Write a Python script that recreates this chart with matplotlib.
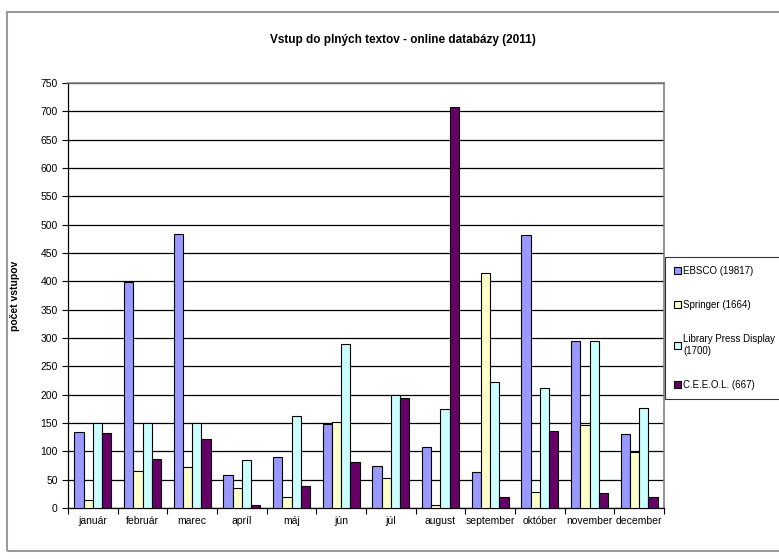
import numpy as np
import matplotlib.pyplot as plt
from matplotlib.patches import Rectangle

plt.rcParams['font.family'] = ['Liberation Sans', 'DejaVu Sans']

months = ['január', 'február', 'marec', 'apríl', 'máj', 'jún', 'júl',
          'august', 'september', 'október', 'november', 'december']
ebsco = [135, 398, 483, 59, 90, 148, 74, 108, 64, 481, 295, 131]
springer = [14, 66, 72, 35, 19, 152, 53, 5, 415, 29, 146, 98]
lpd = [150, 150, 150, 84, 162, 289, 200, 174, 223, 211, 295, 176]
ceeol = [133, 87, 121, 5, 38, 81, 195, 708, 20, 136, 26, 19]

series = [ebsco, springer, lpd, ceeol]
labels = ['EBSCO (19817)', 'Springer (1664)', 'Library Press Display\n(1700)', 'C.E.E.O.L. (667)']
colors = ['#9999FF', '#FFFFCC', '#CCFFFF', '#660066']

W, H = 779, 559
fig = plt.figure(figsize=(W / 100, H / 100), dpi=100)

# outer chart border
fig.patches.append(Rectangle((7 / W, 1 - 551 / H), (W + 5) / W, (551 - 12) / H,
                             transform=fig.transFigure, fill=False,
                             edgecolor='#9a9a9a', linewidth=1.5))

ax = fig.add_axes([68 / W, 1 - 508 / H, (664 - 68) / W, (508 - 83) / H])

x = np.arange(len(months))
bw = 0.185
for i, (vals, lab, col) in enumerate(zip(series, labels, colors)):
    ax.bar(x + (i - 1.5) * bw, vals, bw, color=col, edgecolor='black',
           linewidth=0.8, label=lab, zorder=3)

ax.set_xlim(-0.5, len(months) - 0.5)
ax.set_ylim(0, 750)
ax.set_yticks(np.arange(0, 751, 50))
ax.tick_params(axis='y', labelsize=7.5, length=4, direction='out', width=0.8)
ax.set_xticks(x)
ax.set_xticklabels(months, fontsize=7.5)
ax.tick_params(axis='x', length=0, pad=6)
ax.set_xticks(np.arange(-0.5, len(months)), minor=True)
ax.tick_params(axis='x', which='minor', length=4, direction='out', width=0.8)
ax.grid(axis='y', color='black', linewidth=0.9, zorder=0)

for side in ['top', 'right']:
    ax.spines[side].set_color('#808080')
    ax.spines[side].set_linewidth(1.2)
for side in ['left', 'bottom']:
    ax.spines[side].set_color('black')
    ax.spines[side].set_linewidth(0.9)

ax.set_ylabel('počet vstupov', fontsize=7.5, fontweight='bold')
ax.yaxis.set_label_coords((20 - 68) / (664 - 68), 0.5)
fig.text(403 / W, 1 - 40 / H, 'Vstup do plných textov - online databázy (2011)',
         ha='center', va='center', fontsize=8.5, fontweight='bold')

leg = fig.legend(loc='upper left', bbox_to_anchor=(665 / W, 1 - 257 / H),
                 fontsize=7, frameon=True, fancybox=False, edgecolor='black',
                 handlelength=0.7, handleheight=0.7, handletextpad=0.25,
                 labelspacing=2.5, borderpad=0.9, borderaxespad=0)
leg.get_frame().set_linewidth(0.8)

fig.savefig('out.png', dpi=100)
